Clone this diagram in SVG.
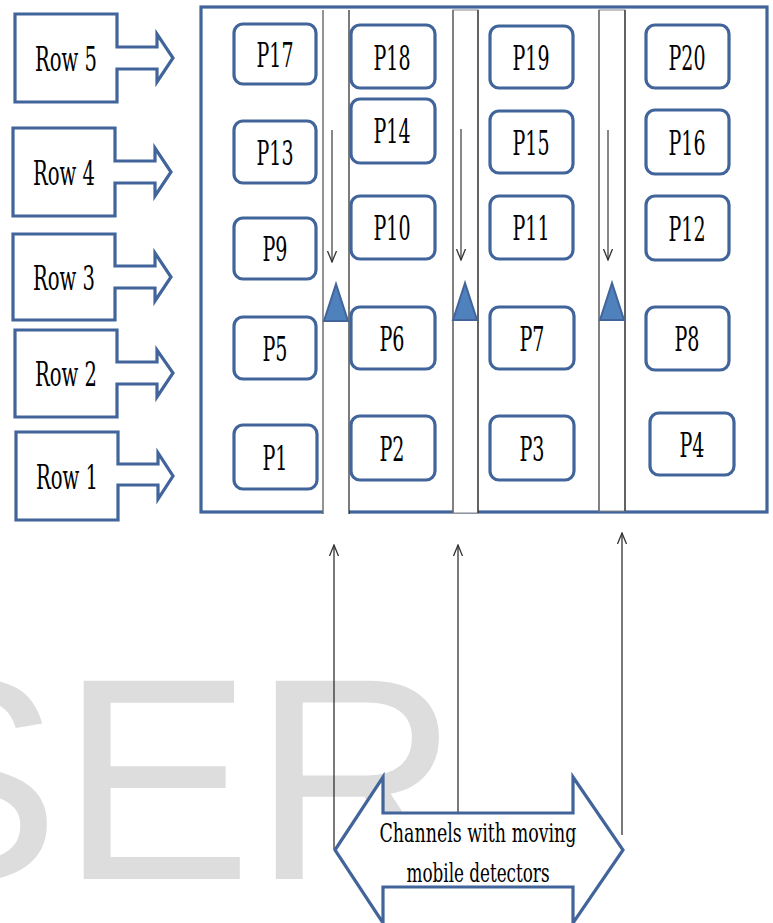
<svg xmlns="http://www.w3.org/2000/svg" width="773" height="923" viewBox="0 0 773 923">
<defs>
<style>
.blue{fill:#fff;stroke:#41659B;stroke-width:3.2;stroke-linejoin:miter}
.pb{fill:#fff;stroke:#41659B;stroke-width:3.2}
.lbl{font-size:33px;fill:#000;text-anchor:middle}
.ct{font-size:26px;fill:#000;text-anchor:middle}
.chl{stroke:#666;stroke-width:1.4}
.chr{stroke:#222;stroke-width:1.2}
.tri{fill:#4F81BD;stroke:#41659B;stroke-width:2}
.dn{stroke:#555;stroke-width:1.4;fill:none}
.up{stroke:#222;stroke-width:1.2;fill:none}
</style>
<marker id="ah" viewBox="0 -6 12 12" refX="11" refY="0" markerWidth="12" markerHeight="12" markerUnits="userSpaceOnUse" orient="auto">
<path d="M0,-4.5 L11,0 L0,4.5" fill="none" stroke="#333" stroke-width="1.3"/>
</marker>
</defs>
<rect width="773" height="923" fill="#fff"/>
<text x="-132" y="879" font-family="Liberation Sans, Arial, sans-serif" font-size="288" fill="#dddddd">SER</text>

<g id="frame"><rect x="201" y="7" width="566" height="505" fill="none" stroke="#41659B" stroke-width="3.2"/></g>

<g id="channels">
<rect x="323" y="10" width="26" height="504" fill="#fff"/>
<rect x="453" y="10" width="25" height="503" fill="#fff" stroke="#888" stroke-width="1"/>
<rect x="599" y="10" width="26" height="501" fill="#fff" stroke="#888" stroke-width="1"/>
<line class="chl" x1="323" y1="10" x2="323" y2="514"/><line class="chr" x1="349" y1="10" x2="349" y2="514"/>
<line class="chl" x1="453" y1="10" x2="453" y2="513"/><line class="chr" x1="478" y1="10" x2="478" y2="513"/>
<line class="chl" x1="599" y1="10" x2="599" y2="511"/><line class="chr" x1="625" y1="10" x2="625" y2="511"/>
</g>

<g font-family="DejaVu Serif, Liberation Serif, serif">
<g id="row5"><path class="blue" d="M15,14 H117 V47 H157 V34 L173,58 L157,82 V69 H117 V102 H15 Z"/><text class="lbl" x="66" y="71" textLength="62" lengthAdjust="spacingAndGlyphs">Row 5</text></g>
<g id="row4"><path class="blue" d="M13,128 H115 V161 H155 V148 L171,172 L155,196 V183 H115 V216 H13 Z"/><text class="lbl" x="64" y="185" textLength="62" lengthAdjust="spacingAndGlyphs">Row 4</text></g>
<g id="row3"><path class="blue" d="M13,234 H115 V266 H155 V253 L171,277 L155,301 V288 H115 V320 H13 Z"/><text class="lbl" x="64" y="290" textLength="62" lengthAdjust="spacingAndGlyphs">Row 3</text></g>
<g id="row2"><path class="blue" d="M15,330 H117 V362 H157 V350 L173,373 L157,397 V384 H117 V417 H15 Z"/><text class="lbl" x="66" y="386" textLength="62" lengthAdjust="spacingAndGlyphs">Row 2</text></g>
<g id="row1"><path class="blue" d="M16,432 H118 V464 H158 V453 L173,476 L158,499 V485 H118 V520 H16 Z"/><text class="lbl" x="67" y="489" textLength="62" lengthAdjust="spacingAndGlyphs">Row 1</text></g>

<g id="P17"><rect class="pb" x="234" y="24" width="82" height="60" rx="9"/><text class="lbl" x="275" y="67" textLength="37" lengthAdjust="spacingAndGlyphs">P17</text></g>
<g id="P13"><rect class="pb" x="234" y="121" width="82" height="62" rx="9"/><text class="lbl" x="275" y="165" textLength="37" lengthAdjust="spacingAndGlyphs">P13</text></g>
<g id="P9"><rect class="pb" x="234" y="218" width="82" height="61" rx="9"/><text class="lbl" x="275" y="261" textLength="25" lengthAdjust="spacingAndGlyphs">P9</text></g>
<g id="P5"><rect class="pb" x="234" y="317" width="82" height="62" rx="9"/><text class="lbl" x="275" y="361" textLength="25" lengthAdjust="spacingAndGlyphs">P5</text></g>
<g id="P1"><rect class="pb" x="234" y="425" width="83" height="64" rx="9"/><text class="lbl" x="275" y="470" textLength="25" lengthAdjust="spacingAndGlyphs">P1</text></g>

<g id="P18"><rect class="pb" x="351" y="25" width="84" height="63" rx="9"/><text class="lbl" x="392" y="70" textLength="37" lengthAdjust="spacingAndGlyphs">P18</text></g>
<g id="P14"><rect class="pb" x="351" y="99" width="84" height="64" rx="9"/><text class="lbl" x="392" y="143" textLength="37" lengthAdjust="spacingAndGlyphs">P14</text></g>
<g id="P10"><rect class="pb" x="351" y="196" width="84" height="63" rx="9"/><text class="lbl" x="392" y="240" textLength="37" lengthAdjust="spacingAndGlyphs">P10</text></g>
<g id="P6"><rect class="pb" x="351" y="307" width="84" height="62" rx="9"/><text class="lbl" x="392" y="351" textLength="25" lengthAdjust="spacingAndGlyphs">P6</text></g>
<g id="P2"><rect class="pb" x="351" y="416" width="84" height="64" rx="9"/><text class="lbl" x="392" y="461" textLength="25" lengthAdjust="spacingAndGlyphs">P2</text></g>

<g id="P19"><rect class="pb" x="490" y="26" width="83" height="62" rx="9"/><text class="lbl" x="531" y="70" textLength="37" lengthAdjust="spacingAndGlyphs">P19</text></g>
<g id="P15"><rect class="pb" x="490" y="111" width="83" height="62" rx="9"/><text class="lbl" x="531" y="155" textLength="37" lengthAdjust="spacingAndGlyphs">P15</text></g>
<g id="P11"><rect class="pb" x="490" y="196" width="83" height="63" rx="9"/><text class="lbl" x="531" y="240" textLength="37" lengthAdjust="spacingAndGlyphs">P11</text></g>
<g id="P7"><rect class="pb" x="490" y="307" width="84" height="62" rx="9"/><text class="lbl" x="532" y="351" textLength="25" lengthAdjust="spacingAndGlyphs">P7</text></g>
<g id="P3"><rect class="pb" x="490" y="416" width="84" height="64" rx="9"/><text class="lbl" x="532" y="461" textLength="25" lengthAdjust="spacingAndGlyphs">P3</text></g>

<g id="P20"><rect class="pb" x="646" y="25" width="83" height="63" rx="9"/><text class="lbl" x="687" y="70" textLength="37" lengthAdjust="spacingAndGlyphs">P20</text></g>
<g id="P16"><rect class="pb" x="646" y="110" width="83" height="64" rx="9"/><text class="lbl" x="687" y="155" textLength="37" lengthAdjust="spacingAndGlyphs">P16</text></g>
<g id="P12"><rect class="pb" x="646" y="196" width="83" height="64" rx="9"/><text class="lbl" x="687" y="241" textLength="37" lengthAdjust="spacingAndGlyphs">P12</text></g>
<g id="P8"><rect class="pb" x="646" y="307" width="83" height="63" rx="9"/><text class="lbl" x="687" y="351" textLength="25" lengthAdjust="spacingAndGlyphs">P8</text></g>
<g id="P4"><rect class="pb" x="650" y="413" width="84" height="62" rx="9"/><text class="lbl" x="692" y="457" textLength="25" lengthAdjust="spacingAndGlyphs">P4</text></g>
</g>

<g id="detectors">
<polygon class="tri" points="336,284 324,321 348,321"/>
<polygon class="tri" points="465,283 453,320 477,320"/>
<polygon class="tri" points="612,283 600,320 624,320"/>
</g>

<g id="connectors">
<line class="dn" x1="332" y1="130" x2="332" y2="262" marker-end="url(#ah)"/>
<line class="dn" x1="461" y1="129" x2="461" y2="260" marker-end="url(#ah)"/>
<line class="dn" x1="608" y1="130" x2="608" y2="260" marker-end="url(#ah)"/>
<line class="up" x1="334" y1="849" x2="334" y2="545" marker-end="url(#ah)"/>
<line class="up" x1="458" y1="812" x2="458" y2="545" marker-end="url(#ah)"/>
<line class="up" x1="622" y1="835" x2="622" y2="533" marker-end="url(#ah)"/>
</g>

<g id="channels-label" font-family="DejaVu Serif, Liberation Serif, serif">
<path class="blue" d="M335,850 L383,777 V813 H573 V777 L623,850 L573,923 V887 H383 V923 Z"/>
<text class="ct" x="478" y="842" textLength="197" lengthAdjust="spacingAndGlyphs">Channels with moving</text>
<text class="ct" x="478" y="882" textLength="143" lengthAdjust="spacingAndGlyphs">mobile detectors</text>
</g>
</svg>
